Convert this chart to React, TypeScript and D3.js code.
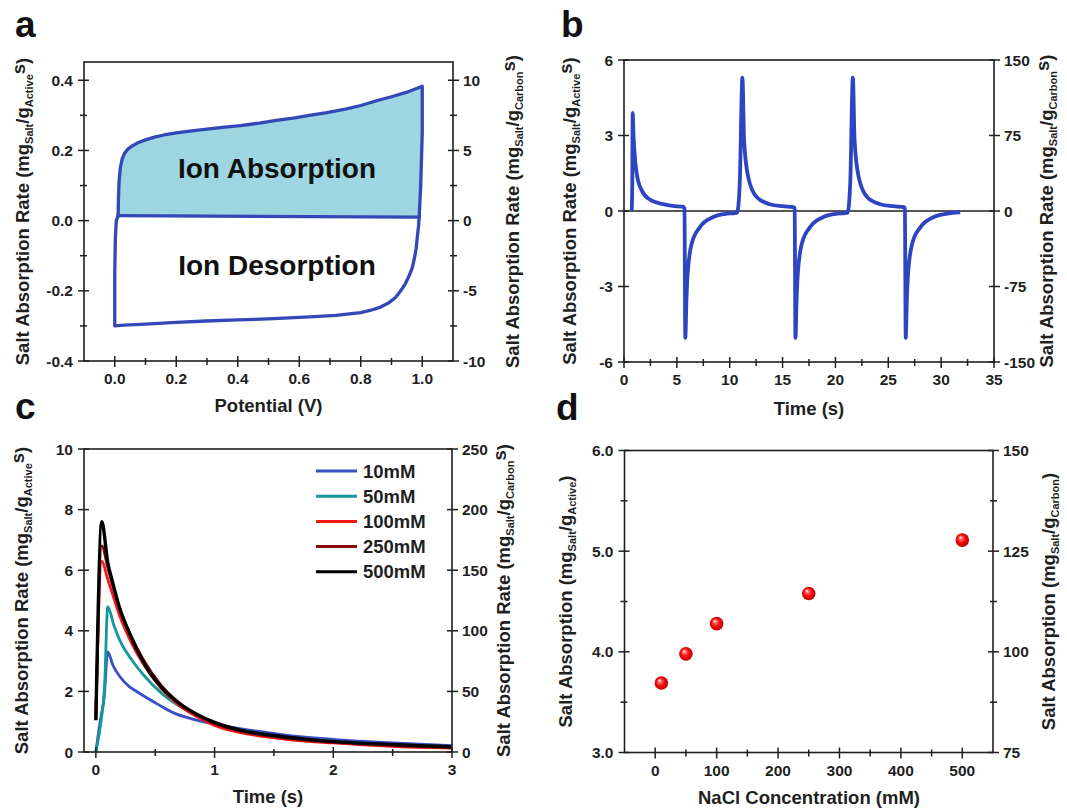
import { useRef, useEffect } from "react";
import * as d3 from "d3";

const W = 1067;
const H = 809;
const FONT = "'Liberation Sans', Arial, Helvetica, sans-serif";
const INK = "#1f1f1f";

// a: cyclic voltammetry as salt absorption rate
const cvChargeV = [0.011, 0.012, 0.014, 0.018, 0.024, 0.032, 0.042, 0.055, 0.073, 0.1, 0.129, 0.16, 0.2, 0.25, 0.3, 0.35, 0.409, 0.47, 0.52, 0.58, 0.633, 0.69, 0.75, 0.8, 0.857, 0.9, 0.95, 1.0, 1.0, 0.995, 0.99];
const cvChargeRate = [0.014, 0.06, 0.11, 0.15, 0.175, 0.192, 0.203, 0.212, 0.221, 0.23, 0.238, 0.244, 0.25, 0.256, 0.261, 0.266, 0.271, 0.278, 0.285, 0.292, 0.3, 0.308, 0.318, 0.328, 0.343, 0.353, 0.366, 0.383, 0.25, 0.1, 0.01];
const cvDischargeV = [0.99, 0.988, 0.985, 0.98, 0.975, 0.968, 0.957, 0.945, 0.93, 0.913, 0.89, 0.86, 0.83, 0.8, 0.72, 0.633, 0.5, 0.4, 0.297, 0.2, 0.1, 0.03, 0.0, 0.0, 0.002, 0.005, 0.011];
const cvDischargeRate = [0.01, -0.015, -0.038, -0.08, -0.105, -0.133, -0.158, -0.18, -0.2, -0.219, -0.235, -0.248, -0.256, -0.262, -0.27, -0.274, -0.28, -0.283, -0.286, -0.29, -0.295, -0.298, -0.3, -0.15, -0.05, 0.0, 0.014];

// b: rate over three charge / discharge cycles
const cycleTime = [0.73, 0.78, 0.82, 0.9, 0.98, 1.2, 1.67, 2.46, 3.72, 4.6, 5.6, 5.72, 5.8, 5.9, 6.02, 6.4, 7.18, 8.44, 9.5, 10.5, 10.7, 10.95, 11.2, 11.36, 11.75, 12.54, 13.8, 15.0, 16.05, 16.14, 16.22, 16.32, 16.44, 16.82, 17.6, 18.86, 19.9, 20.9, 21.15, 21.4, 21.65, 21.81, 22.2, 22.99, 24.25, 25.45, 26.48, 26.57, 26.65, 26.75, 26.87, 27.26, 28.05, 29.3, 30.3, 31.8];
const cycleRate = [0.0, 1.0, 3.9, 3.0, 2.41, 1.49, 0.82, 0.45, 0.27, 0.2, 0.17, 0.1, -5.04, -3.6, -2.49, -1.3, -0.64, -0.24, -0.12, -0.08, -0.07, 1.1, 5.3, 2.81, 1.35, 0.56, 0.27, 0.19, 0.15, 0.1, -5.04, -3.6, -2.49, -1.3, -0.64, -0.24, -0.12, -0.08, -0.07, 1.1, 5.3, 2.81, 1.35, 0.56, 0.27, 0.19, 0.15, 0.1, -5.04, -3.6, -2.49, -1.3, -0.64, -0.24, -0.12, -0.05];

// c: rate transients at different NaCl concentrations
const concLabels = ["10mM", "50mM", "100mM", "250mM", "500mM"];
const concColors = ["#3a4fc4", "#16989a", "#ff1414", "#8a0c0c", "#000000"];
const t10 = [0, 0.04, 0.07, 0.1, 0.145, 0.2, 0.284, 0.35, 0.52, 0.65, 0.8, 1.0, 1.3, 1.6, 2.0, 2.5, 3.0];
const r10 = [0, 1.1, 1.8, 3.3, 2.85, 2.5, 2.15, 1.98, 1.58, 1.3, 1.1, 0.92, 0.72, 0.56, 0.42, 0.3, 0.21];
const t50 = [0, 0.045, 0.073, 0.1, 0.15, 0.2, 0.3, 0.4, 0.55, 0.7, 0.85, 1.0, 1.3, 1.6, 2.0, 2.5, 3.0];
const r50 = [0, 1.05, 2.15, 4.8, 4.2, 3.7, 3.05, 2.55, 1.95, 1.52, 1.2, 0.95, 0.66, 0.49, 0.35, 0.24, 0.16];
const t100 = [0, 0.05, 0.1, 0.15, 0.2, 0.3, 0.4, 0.55, 0.7, 0.85, 1.0, 1.3, 1.6, 2.0, 2.5, 3.0];
const r100 = [1.2, 6.3, 5.7, 5.1, 4.5, 3.6, 2.9, 2.1, 1.55, 1.17, 0.88, 0.58, 0.42, 0.3, 0.19, 0.13];
const t250 = [0, 0.05, 0.1, 0.15, 0.2, 0.3, 0.4, 0.55, 0.7, 0.85, 1.0, 1.3, 1.6, 2.0, 2.5, 3.0];
const r250 = [1.1, 6.8, 6.1, 5.4, 4.75, 3.8, 3.05, 2.2, 1.62, 1.22, 0.93, 0.62, 0.45, 0.32, 0.21, 0.14];
const t500 = [0, 0.05, 0.1, 0.143, 0.2, 0.284, 0.35, 0.424, 0.55, 0.705, 0.85, 1.0, 1.2, 1.55, 1.83, 2.2, 2.67, 3.0];
const r500 = [1.05, 7.6, 6.25, 5.57, 4.75, 3.91, 3.35, 2.81, 2.15, 1.6, 1.25, 0.98, 0.74, 0.52, 0.4, 0.3, 0.22, 0.17];

// d: total absorption vs concentration
const naclConc = [10, 50, 100, 250, 500];
const saltAbsorption = [3.69, 3.98, 4.28, 4.58, 5.11];

// [text, shift]: shift 1 = subscript, -1 = raised, 0 = baseline
type Part = [string, number];
const rateActive: Part[] = [["Salt Absorption Rate (mg", 0], ["Salt", 1], ["/g", 0], ["Active", 1], ["s", -1], [")", 0]];
const rateCarbon: Part[] = [["Salt Absorption Rate (mg", 0], ["Salt", 1], ["/g", 0], ["Carbon", 1], ["s", -1], [")", 0]];
const absActive: Part[] = [["Salt Absorption (mg", 0], ["Salt", 1], ["/g", 0], ["Active", 1], [")", 0]];
const absCarbon: Part[] = [["Salt Absorption (mg", 0], ["Salt", 1], ["/g", 0], ["Carbon", 1], [")", 0]];

function yTitle(svg, xb, cy, parts: Part[]) {
  const t = svg.append("text")
    .attr("transform", `translate(${xb},${cy}) rotate(-90)`)
    .attr("text-anchor", "middle")
    .attr("font-family", FONT)
    .attr("font-weight", "bold")
    .attr("font-size", 18.5)
    .attr("fill", INK);
  const off = { 0: 0, 1: 4, [-1]: -4 };
  let cur = 0;
  parts.forEach(([s, shift]) => {
    const sp = t.append("tspan").text(s);
    if (shift === 1) sp.attr("font-size", 11);
    const target = off[shift];
    if (target !== cur) sp.attr("dy", target - cur);
    cur = target;
  });
}

function frame(svg, o) {
  const { x, y, y2 } = o;
  const [x0, x1] = x.range();
  const [yb, yt] = y.range();
  const g = svg.append("g");
  const line = (a, b, c, d) =>
    g.append("line").attr("x1", a).attr("y1", b).attr("x2", c).attr("y2", d)
      .attr("stroke", INK).attr("stroke-width", 1.5);
  const label = (px, py, s, anchor) =>
    g.append("text").attr("x", px).attr("y", py).attr("text-anchor", anchor)
      .attr("font-family", FONT).attr("font-weight", "bold").attr("font-size", 15.5)
      .attr("fill", INK).text(s);

  g.append("rect").attr("x", x0).attr("y", yt).attr("width", x1 - x0).attr("height", yb - yt)
    .attr("fill", "none").attr("stroke", INK).attr("stroke-width", 1.6);

  o.xTicks.forEach(v => {
    line(x(v), yb - 5, x(v), yb + 6);
    label(x(v), yb + 23, o.xFmt(v), "middle");
  });
  (o.xMinor || []).forEach(v => line(x(v), yb - 3, x(v), yb + 4));
  o.yTicks.forEach(v => {
    line(x0 - 6, y(v), x0 + 5, y(v));
    label(x0 - 11, y(v) + 5.5, o.yFmt(v), "end");
  });
  (o.yMinor || []).forEach(v => line(x0 - 4, y(v), x0 + 3, y(v)));
  o.y2Ticks.forEach(v => {
    line(x1 - 5, y2(v), x1 + 6, y2(v));
    label(x1 + 10, y2(v) + 5.5, o.y2Fmt(v), "start");
  });
  (o.y2Minor || []).forEach(v => line(x1 - 3, y2(v), x1 + 4, y2(v)));
}

function xTitle(svg, cx, yb, s) {
  svg.append("text").attr("x", cx).attr("y", yb).attr("text-anchor", "middle")
    .attr("font-family", FONT).attr("font-weight", "bold").attr("font-size", 18.5)
    .attr("fill", INK).text(s);
}

function letter(svg, px, py, s) {
  svg.append("text").attr("x", px).attr("y", py)
    .attr("font-family", FONT).attr("font-weight", "bold").attr("font-size", 37)
    .attr("fill", "#111").text(s);
}

function App() {
  const ref = useRef(null);

  useEffect(() => {
    const svg = d3.select(ref.current);
    svg.selectAll("*").remove();
    const fmt1 = d3.format(".1f");
    const fmtInt = d3.format("d");
    const dash = (f) => (v) => f(v).replace("−", "-");

    // ---------- a ----------
    {
      const x = d3.scaleLinear().domain([-0.1, 1.1]).range([84, 453]);
      const y = d3.scaleLinear().domain([-0.4, 0.452]).range([361, 62]);
      const y2 = d3.scaleLinear().domain([-10, 11.3]).range([361, 62]);
      const up = cvChargeV.map((v, i) => [v, cvChargeRate[i]]);
      const down = cvDischargeV.map((v, i) => [v, cvDischargeRate[i]]);
      const ln = d3.line().x(d => x(d[0])).y(d => y(d[1]));
      const blue = "#3347b6";
      svg.append("path").attr("d", ln(up) + "Z").attr("fill", "#9dd6e1").attr("stroke", "none");
      [up, down, [up[up.length - 1], up[0]]].forEach(p =>
        svg.append("path").attr("d", ln(p)).attr("fill", "none").attr("stroke", blue)
          .attr("stroke-width", 3.3).attr("stroke-linejoin", "round").attr("stroke-linecap", "round"));
      frame(svg, {
        x, y, y2,
        xTicks: d3.range(0, 1.01, 0.2), xMinor: d3.range(0.1, 1.0, 0.2), xFmt: fmt1,
        yTicks: [-0.4, -0.2, 0, 0.2, 0.4], yMinor: [-0.3, -0.1, 0.1, 0.3], yFmt: dash(fmt1),
        y2Ticks: [-10, -5, 0, 5, 10], y2Minor: [-7.5, -2.5, 2.5, 7.5], y2Fmt: dash(fmtInt),
      });
      svg.append("text").attr("x", 277).attr("y", 178).attr("text-anchor", "middle")
        .attr("font-family", FONT).attr("font-weight", "bold").attr("font-size", 28).attr("fill", "#111")
        .text("Ion Absorption");
      svg.append("text").attr("x", 277).attr("y", 275).attr("text-anchor", "middle")
        .attr("font-family", FONT).attr("font-weight", "bold").attr("font-size", 28).attr("fill", "#111")
        .text("Ion Desorption");
      xTitle(svg, 268.5, 412, "Potential (V)");
      yTitle(svg, 29, 211.5, rateActive);
      yTitle(svg, 519, 211.5, rateCarbon);
      letter(svg, 15, 37, "a");
    }

    // ---------- b ----------
    {
      const x = d3.scaleLinear().domain([0, 35]).range([624, 994]);
      const y = d3.scaleLinear().domain([-6, 6]).range([362, 60]);
      const y2 = d3.scaleLinear().domain([-150, 150]).range([362, 60]);
      svg.append("line").attr("x1", x(0)).attr("x2", x(35)).attr("y1", y(0)).attr("y2", y(0))
        .attr("stroke", INK).attr("stroke-width", 1.6);
      const ln = d3.line().x(d => x(d[0])).y(d => y(d[1])).curve(d3.curveMonotoneX);
      svg.append("path").attr("d", ln(cycleTime.map((t, i) => [t, cycleRate[i]])))
        .attr("fill", "none").attr("stroke", "#2d45c0").attr("stroke-width", 3.8).attr("stroke-linejoin", "round");
      frame(svg, {
        x, y, y2,
        xTicks: d3.range(0, 36, 5), xMinor: d3.range(2.5, 35, 5), xFmt: fmtInt,
        yTicks: [-6, -3, 0, 3, 6], yFmt: dash(fmtInt),
        y2Ticks: [-150, -75, 0, 75, 150], y2Fmt: dash(fmtInt),
      });
      xTitle(svg, 809, 415, "Time (s)");
      yTitle(svg, 576, 211, rateActive);
      yTitle(svg, 1053, 211, rateCarbon);
      letter(svg, 561, 37, "b");
    }

    // ---------- c ----------
    {
      const x = d3.scaleLinear().domain([-0.1, 3]).range([84, 452]);
      const y = d3.scaleLinear().domain([0, 10]).range([752, 449]);
      const y2 = d3.scaleLinear().domain([0, 250]).range([752, 449]);
      const series = [[t10, r10], [t50, r50], [t100, r100], [t250, r250], [t500, r500]];
      const ln = d3.line().x(d => x(d[0])).y(d => y(d[1])).curve(d3.curveMonotoneX);
      series.forEach(([ts, rs], k) => {
        svg.append("path").attr("d", ln(ts.map((t, i) => [t, rs[i]])))
          .attr("fill", "none").attr("stroke", concColors[k]).attr("stroke-width", k === 4 ? 3.4 : 2.8)
          .attr("stroke-linejoin", "round");
      });
      frame(svg, {
        x, y, y2,
        xTicks: [0, 1, 2, 3], xMinor: [0.5, 1.5, 2.5], xFmt: fmtInt,
        yTicks: [0, 2, 4, 6, 8, 10], yFmt: fmtInt,
        y2Ticks: [0, 50, 100, 150, 200, 250], y2Fmt: fmtInt,
      });
      const lg = svg.append("g");
      concLabels.forEach((s, k) => {
        const ly = 471 + k * 25.2;
        lg.append("line").attr("x1", 316).attr("x2", 357).attr("y1", ly).attr("y2", ly)
          .attr("stroke", concColors[k]).attr("stroke-width", 3);
        lg.append("text").attr("x", 363).attr("y", ly + 6.5)
          .attr("font-family", FONT).attr("font-weight", "bold").attr("font-size", 18.5).attr("fill", INK)
          .text(s);
      });
      xTitle(svg, 268, 803, "Time (s)");
      yTitle(svg, 28, 600.5, rateActive);
      yTitle(svg, 510, 600.5, rateCarbon);
      letter(svg, 15, 419, "c");
    }

    // ---------- d ----------
    {
      const x = d3.scaleLinear().domain([-50, 550]).range([624.5, 993]);
      const y = d3.scaleLinear().domain([3, 6]).range([752.5, 450.5]);
      const y2 = d3.scaleLinear().domain([75, 150]).range([752.5, 450.5]);
      const grad = svg.append("defs").append("radialGradient").attr("id", "ball")
        .attr("cx", "50%").attr("cy", "50%").attr("r", "55%").attr("fx", "35%").attr("fy", "30%");
      grad.append("stop").attr("offset", "0%").attr("stop-color", "#ffffff");
      grad.append("stop").attr("offset", "22%").attr("stop-color", "#ff6a6a");
      grad.append("stop").attr("offset", "55%").attr("stop-color", "#f20a0a");
      grad.append("stop").attr("offset", "100%").attr("stop-color", "#b80000");
      svg.append("g").selectAll("circle").data(naclConc).join("circle")
        .attr("cx", d => x(d))
        .attr("cy", (_, i) => y(saltAbsorption[i]))
        .attr("r", 6.8)
        .attr("fill", "url(#ball)");
      frame(svg, {
        x, y, y2,
        xTicks: d3.range(0, 501, 100), xMinor: d3.range(50, 500, 100), xFmt: fmtInt,
        yTicks: [3, 4, 5, 6], yMinor: [3.5, 4.5, 5.5], yFmt: fmt1,
        y2Ticks: [75, 100, 125, 150], y2Minor: [87.5, 112.5, 137.5], y2Fmt: fmtInt,
      });
      xTitle(svg, 809, 804, "NaCl Concentration (mM)");
      yTitle(svg, 572, 601.5, absActive);
      yTitle(svg, 1055, 601.5, absCarbon);
      letter(svg, 556, 420, "d");
    }
  }, []);

  return (
    <svg
      ref={ref}
      width={W}
      height={H}
      style={{ position: "absolute", left: 0, top: 0, background: "#fff" }}
    />
  );
}

export default App;
